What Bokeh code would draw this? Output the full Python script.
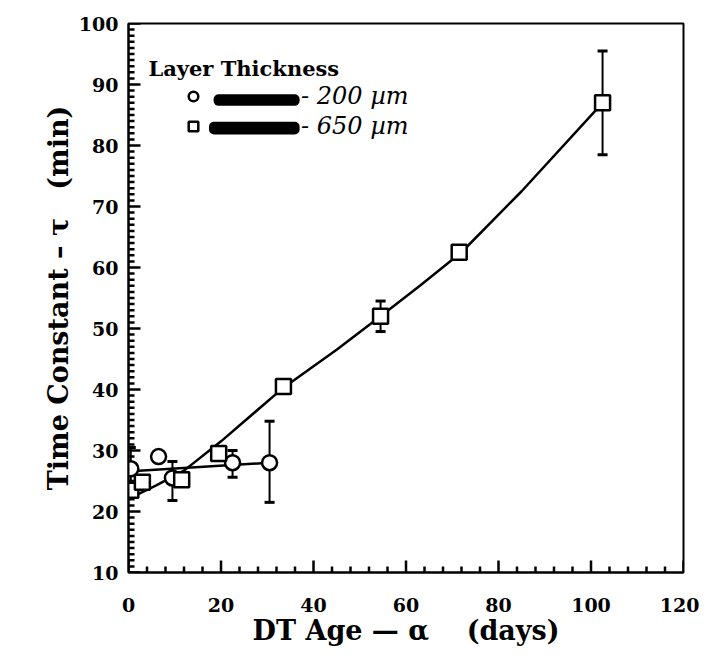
from bokeh.plotting import figure
from bokeh.models import (ColumnDataSource, Whisker, TeeHead, Label, Legend, LegendItem,
                          BoxAnnotation, Range1d, FixedTicker)
from bokeh.embed import file_html
from bokeh.resources import INLINE

# 200 um layers (circles)
circ_x = [0.5, 6.5, 9.5, 22.5, 30.5]
circ_y = [27.0, 29.0, 25.5, 28.0, 28.0]
# error bars for circles
circ_err_x = [0.5, 9.5, 22.5, 30.5]
circ_err_lo = [22.8, 21.8, 25.6, 21.5]
circ_err_hi = [30.5, 28.2, 30.0, 34.8]

# 650 um layers (squares)
sq_x = [0.5, 3.0, 11.5, 19.5, 33.5, 54.5, 71.5, 102.5]
sq_y = [23.5, 24.8, 25.2, 29.5, 40.5, 52.0, 62.5, 87.0]
sq_err_x = [54.5, 102.5]
sq_err_lo = [49.5, 78.5]
sq_err_hi = [54.5, 95.5]

# fitted curves
circ_fit_x = [0.5, 30.5]
circ_fit_y = [26.6, 28.0]
sq_fit_x = [2.0, 6.0, 12.0, 20.0, 33.5, 45.0, 54.5, 63.0, 72.0, 85.0, 102.5]
sq_fit_y = [22.8, 24.3, 26.7, 31.5, 40.3, 46.5, 52.0, 57.0, 62.5, 72.5, 87.0]

# axis ticks
x_major = [0, 20, 40, 60, 80, 100, 120]
x_minor = [4, 8, 12, 16, 24, 28, 32, 36, 44, 48, 52, 56, 64, 68, 72, 76,
           84, 88, 92, 96, 104, 108, 112, 116]
y_major = [10, 20, 30, 40, 50, 60, 70, 80, 90, 100]
y_minor = [v for v in range(11, 100) if v % 10 != 0]

X0, X1, Y0, Y1 = 0, 120, 10, 100
FW, FH = 555, 549
FONT = "DejaVu Serif"
NB = "\u00a0"

p = figure(frame_width=FW, frame_height=FH, output_backend="svg", toolbar_location=None,
           x_range=Range1d(X0, X1), y_range=Range1d(Y0, Y1),
           min_border_left=128, min_border_top=23, min_border_right=16, min_border_bottom=84)
p.background_fill_color = "white"
p.border_fill_color = "white"
p.grid.visible = False
p.outline_line_color = "black"
p.outline_line_width = 2

p.xaxis.ticker = FixedTicker(ticks=x_major)
p.yaxis.ticker = FixedTicker(ticks=y_major)
for ax in (p.xaxis[0], p.yaxis[0]):
    ax.axis_line_color = "black"
    ax.axis_line_width = 2
    ax.major_tick_in = 0
    ax.major_tick_out = 0
    ax.minor_tick_in = 0
    ax.minor_tick_out = 0
    ax.major_label_text_font = FONT
    ax.major_label_text_font_style = "bold"
    ax.major_label_text_font_size = "19px"
    ax.major_label_text_color = "#000000"
    ax.axis_label_text_font = FONT
    ax.axis_label_text_font_style = "bold"
    ax.axis_label_text_font_size = "27px"
    ax.axis_label_text_color = "#000000"

p.xaxis.axis_label = "DT Age \u2014 \u03b1" + NB * 4 + "(days)"
p.yaxis.axis_label = "Time Constant \u2013 \u03c4" + NB * 3 + "(min)"
p.xaxis.major_label_standoff = 25
p.xaxis.axis_label_standoff = 0
p.yaxis.major_label_standoff = 10
p.yaxis.axis_label_standoff = 2

# inward tick marks (lengths in px converted to data units)
ux = (X1 - X0) / FW
uy = (Y1 - Y0) / FH
tick_src = ColumnDataSource(dict(
    x0=x_major + x_minor + [X0] * len(y_major) + [X0] * len(y_minor),
    y0=[Y0] * len(x_major) + [Y0] * len(x_minor) + y_major + y_minor,
    x1=x_major + x_minor + [X0 + 12 * ux] * len(y_major) + [X0 + 6 * ux] * len(y_minor),
    y1=[Y0 + 12 * uy] * len(x_major) + [Y0 + 6 * uy] * len(x_minor) + y_major + y_minor,
))
p.segment(x0="x0", y0="y0", x1="x1", y1="y1", source=tick_src,
          line_color="#000000", line_width=2.5)

# fit lines
p.line(circ_fit_x, circ_fit_y, line_color="black", line_width=2.5)
p.line(sq_fit_x, sq_fit_y, line_color="black", line_width=2.5)

# error bars
ce = ColumnDataSource(dict(x=circ_err_x, lo=circ_err_lo, hi=circ_err_hi))
se = ColumnDataSource(dict(x=sq_err_x, lo=sq_err_lo, hi=sq_err_hi))
for src in (ce, se):
    w = Whisker(source=src, base="x", lower="lo", upper="hi", line_width=2, line_color="black",
                upper_head=TeeHead(size=10, line_width=3, line_color="black"),
                lower_head=TeeHead(size=10, line_width=3, line_color="black"))
    p.add_layout(w)

# markers
r_circ = p.scatter(circ_x, circ_y, marker="circle", size=15, fill_color="white",
                   line_color="black", line_width=2.5)
r_sq = p.scatter(sq_x, sq_y, marker="square", size=15, fill_color="white",
                 line_color="black", line_width=2.5)

# legend title
p.add_layout(Label(x=4.3, y=92.6, text="Layer Thickness", text_font=FONT,
                   text_font_style="bold", text_font_size="21px", text_baseline="middle",
                   text_color="#000000"))

# redacted marks in the legend
p.add_layout(BoxAnnotation(left=18.4, right=37.0, bottom=86.5, top=88.4, fill_color="black",
                           fill_alpha=1, line_color=None, border_radius=5))
p.add_layout(BoxAnnotation(left=17.4, right=37.0, bottom=81.8, top=83.9, fill_color="black",
                           fill_alpha=1, line_color=None, border_radius=5))

legend = Legend(items=[LegendItem(label="- 200 \u00b5m", renderers=[r_circ]),
                       LegendItem(label="- 650 \u00b5m", renderers=[r_sq])],
                location=(53, 432), orientation="vertical")
legend.border_line_color = None
legend.background_fill_alpha = 0
legend.padding = 0
legend.margin = 0
legend.spacing = 2
legend.glyph_width = 24
legend.glyph_height = 26
legend.label_height = 26
legend.label_standoff = 96
legend.label_text_font = FONT
legend.label_text_font_style = "italic"
legend.label_text_font_size = "24px"
legend.label_text_color = "#000000"
p.add_layout(legend)

open("out.html", "w").write(file_html(p, INLINE))
